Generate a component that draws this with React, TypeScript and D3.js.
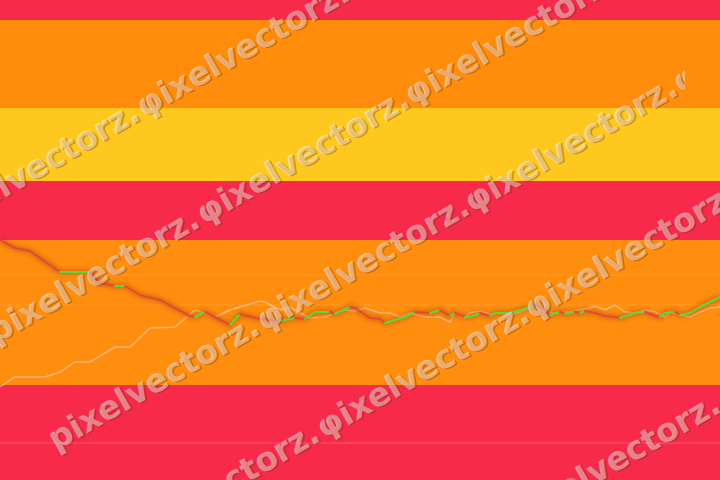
import React from 'react';
import * as d3 from 'd3';

const W = 720;
const H = 480;

// Time index (one step per trading period)
const priceT = [0,3,6,12,18,20,23,25,28,32,38,39,41,46,48,52,54,56,59,61,63,66,67,70,71,74,76,77,79,81,83,86,88,90,91,93,94,96,98,99,102,104,106,107,109,110,112,113,115,116,117,119,121,123,124,127,129,131,132,133,135,136,138,140,142,144];
const priceV = [145,137,134,113,113,102,99,99,90,85,69,68,73,60,71,66,65,64,67,66,73,73,71,78,77,67,66,62,65,68,73,72,75,69,72,68,68,72,69,72,72,75,78,80,75,70,73,71,73,72,74,72,69,68,67,72,73,69,68,72,73,70,72,78,83,88];

const avgT = [0,3,9,12,15,18,23,26,30,35,39,43,46,50,52,53,56,58,60,62,65,67,69,71,73,76,78,80,82,85,88,90,91,93,94,96,98,100,102,104,107,109,111,114,116,118,119,121,123,125,127,129,131,133,134,136,138,140,142,144];
const avgV = [-2,8,8,13,23,23,38,38,57,58,75,68,75,81,84,83,75,78,72,67,68,72,75,74,77,72,72,68,72,68,68,63,72,67,72,74,71,72,70,73,79,73,72,73,75,77,79,75,80,73,72,75,73,68,73,70,68,73,77,78];

// Background zones (value thresholds) and their colours
const zoneEdges = [-95, 0, 145, 204, 277, 365, 385];
const zoneColors = ['#F72A4A', '#FF8E0F', '#F72A4A', '#FFC81E', '#FF8C0A', '#F72A4A'];
const gridValues = [110, 80];
const baseLineValue = -58;

const watermarkFirst = 'pixelvectorz.';
const watermarkWord = 'φixelvectorz.';
const watermarkRows = [0, 1, 2, 3];
const watermarkWords = [-1, 0, 1, 2, 3];

export default function App() {
  const x = d3.scaleLinear().domain([0, 144]).range([0, W]);
  const y = d3.scaleLinear().domain([0, 145]).range([385, 240]);

  const price = priceT.map((t, i) => ({ t, v: priceV[i] }));
  const avg = avgT.map((t, i) => ({ t, v: avgV[i] }));
  const line = d3.line<{ t: number; v: number }>().x(d => x(d.t)).y(d => y(d.v));

  const segs = price.slice(1).map((d, i) => ({ a: price[i], b: d, up: d.v >= price[i].v }));

  const angle = -29.8;
  const stepX = 208;
  const stepY = -119;

  const renderWord = (px: number, py: number, text: string, key: string) => (
    <g key={key} transform={`translate(${px},${py}) rotate(${angle})`}>
      <text x={1.2} y={1.6} fill="rgba(110,35,0,0.32)" fontFamily="DejaVu Sans" fontWeight="bold" fontSize={32.7}>{text}</text>
      <text x={0} y={0} fill="rgba(255,255,255,0.45)" fontFamily="DejaVu Sans" fontWeight="bold" fontSize={32.7}>{text}</text>
    </g>
  );

  return (
    <svg width={W} height={H} style={{ position: 'absolute', left: 0, top: 0 }} xmlns="http://www.w3.org/2000/svg">
      <defs>
        <filter id="glow" x="-10%" y="-50%" width="120%" height="200%">
          <feGaussianBlur stdDeviation="2" />
        </filter>
        <clipPath id="wmclip">
          <rect x={0} y={0} width={685} height={H} />
        </clipPath>
      </defs>
      {zoneColors.map((c, i) => (
        <rect key={i} x={0} width={W} y={y(zoneEdges[i + 1])} height={y(zoneEdges[i]) - y(zoneEdges[i + 1])} fill={c} />
      ))}
      {gridValues.map(g => (
        <line key={g} x1={0} x2={W} y1={y(g)} y2={y(g)} stroke="rgba(255,255,255,0.1)" strokeWidth={1} />
      ))}
      <line x1={0} x2={W} y1={y(baseLineValue)} y2={y(baseLineValue)} stroke="rgba(255,120,130,0.6)" strokeWidth={1} />

      <path d={line(avg) || ''} fill="none" stroke="rgba(245,215,210,0.55)" strokeWidth={1.5} />
      <path d={line(price) || ''} fill="none" stroke="rgba(170,60,0,0.4)" strokeWidth={6} filter="url(#glow)" />
      {segs.map((s, i) => (
        <line key={i} x1={x(s.a.t)} y1={y(s.a.v)} x2={x(s.b.t)} y2={y(s.b.v)}
          stroke={s.up ? '#5CD93C' : '#E8483C'} strokeWidth={2} strokeLinecap="round" />
      ))}

      {watermarkRows.map(r => (
        <g key={r} clipPath={r === 2 ? 'url(#wmclip)' : undefined}>
          {watermarkWords.map(k =>
            renderWord(144 + 60 * r + stepX * k, 118 + 107 * r + stepY * k, k === -1 ? watermarkFirst : watermarkWord, `${r}-${k}`)
          )}
        </g>
      ))}
      {renderWord(515, 530, watermarkWord, 'extra')}
    </svg>
  );
}
